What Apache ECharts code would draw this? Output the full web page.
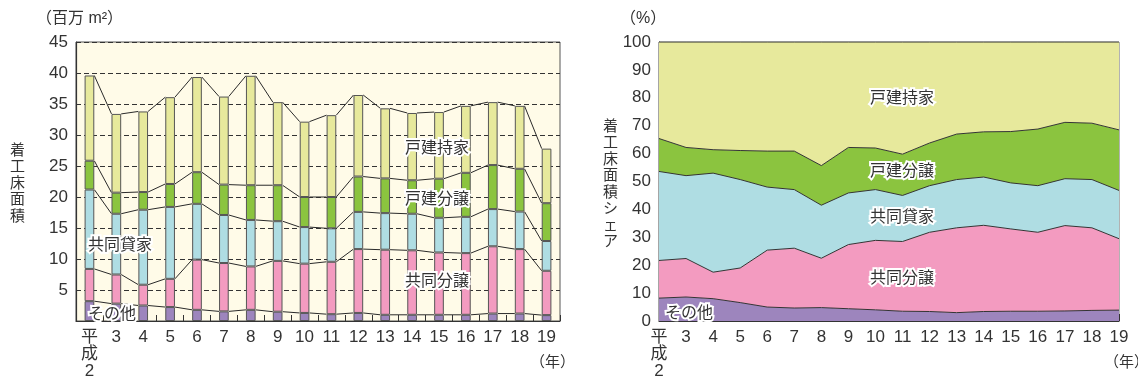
<!DOCTYPE html>
<html><head><meta charset="utf-8">
<script src="https://cdn.jsdelivr.net/npm/echarts@6/dist/echarts.min.js"></script>
<style>html,body{margin:0;padding:0;background:#fff}#c{width:1138px;height:380px}</style>
</head><body><div id="c"></div>
<script>
// ---- data ----
const years = ['平\n成\n2','3','4','5','6','7','8','9','10','11','12','13','14','15','16','17','18','19'];
const seriesNames = ['その他','共同分譲','共同貸家','戸建分譲','戸建持家'];
// left: floor area (million m2)
const sonota        = [3.2,2.8,2.5,2.25,1.8,1.55,1.8,1.5,1.3,1.1,1.3,1.0,1.0,1.0,1.0,1.2,1.2,0.95];
const kyodoBunjo    = [5.2,4.7,3.35,4.55,8.1,7.8,7.0,8.2,7.95,8.45,10.3,10.5,10.4,10.05,9.95,10.85,10.4,7.15];
const kyodoKashiya  = [12.8,9.8,12.1,11.6,9.0,7.75,7.5,6.4,5.9,5.4,6.0,5.9,5.9,5.6,5.85,6.0,6.05,4.8];
const kodateBunjo   = [4.65,3.4,2.85,3.7,5.1,4.9,5.6,5.8,4.85,5.05,5.7,5.6,5.4,6.3,7.1,7.1,6.9,6.1];
const kodateMochiie = [13.75,12.7,13.0,14.0,15.35,14.2,17.65,13.4,12.15,13.2,13.15,11.3,10.85,10.75,10.8,10.15,10.15,8.8];
// right: share (%)
const shSonota        = [8.2,8.6,8.0,6.6,5.0,4.65,4.8,4.4,4.0,3.5,3.4,3.0,3.4,3.5,3.5,3.6,3.8,3.9];
const shKyodoBunjo    = [13.5,13.8,9.5,12.4,20.4,21.45,17.7,23.0,24.9,25.0,28.4,30.4,30.9,29.5,28.3,30.6,29.6,25.6];
const shKyodoKashiya  = [31.9,29.7,35.5,31.7,22.6,21.0,19.0,18.5,18.2,16.5,16.7,17.3,17.3,16.5,16.7,16.8,17.3,17.3];
const shKodateBunjo   = [11.8,10.1,8.4,10.4,12.9,13.8,14.2,16.3,14.9,14.8,15.3,16.3,16.2,18.4,20.3,20.2,20.2,21.7];
const shKodateMochiie = [34.6,37.8,38.6,38.9,39.1,39.1,44.3,37.8,38.0,40.2,36.2,33.0,32.2,32.1,31.2,28.8,29.1,31.5];
const leftTicks = {min:0, max:45, interval:5};
const rightTicks = {min:0, max:100, interval:10};

const colors = ['#9d85bd','#f39bc0','#afdde3','#8bc43f','#e7e99c'];
const leftData = [sonota,kyodoBunjo,kyodoKashiya,kodateBunjo,kodateMochiie];
const rightData = [shSonota,shKyodoBunjo,shKyodoKashiya,shKodateBunjo,shKodateMochiie];

const BAR_RATIO = 0.36;
const FONT = '"Liberation Sans","Noto Sans CJK JP",sans-serif';
const JFONT = '"Noto Sans CJK JP",sans-serif';

// cumulative tops for connectors
const cums = [];
let run = years.map(()=>0);
leftData.forEach(arr=>{ run = run.map((v,i)=>v+arr[i]); cums.push(run.slice()); });

function connector(cum){
  const data=[];
  for(let i=0;i<cum.length-1;i++) data.push([i,cum[i],cum[i+1]]);
  return {type:'custom', xAxisIndex:0, yAxisIndex:0, data, encode:{x:0,y:[1,2]}, z:3, silent:true,
    renderItem(params, api){
      const i = api.value(0);
      const p1 = api.coord([i, api.value(1)]);
      const p2 = api.coord([i+1, api.value(2)]);
      const hb = api.size([1,0])[0]*BAR_RATIO/2;
      return {type:'line', shape:{x1:p1[0]+hb, y1:p1[1], x2:p2[0]-hb, y2:p2[1]},
        style:{stroke:'#2a2a2a', lineWidth:1}};
    }};
}

const series = [];
leftData.forEach((arr,k)=>{
  series.push({type:'bar', name:seriesNames[k], stack:'L', xAxisIndex:0, yAxisIndex:0,
    barWidth:(BAR_RATIO*100)+'%', data:arr, z:4,
    itemStyle:{color:colors[k], borderColor:'#555', borderWidth:1}});
});
cums.forEach(c=>series.push(connector(c)));
rightData.forEach((arr,k)=>{
  series.push({type:'line', name:seriesNames[k]+'%', stack:'R', xAxisIndex:1, yAxisIndex:1,
    data:arr, symbol:'none', smooth:false,
    lineStyle:{color:'#333', width:1}, areaStyle:{color:colors[k], opacity:1}, z:2});
});

function lbl(text,x,y){
  return {type:'text', x, y, z:100, style:{text, font:'16px '+JFONT, fill:'#333',
    stroke:'#fff', lineWidth:4, textAlign:'left', textVerticalAlign:'middle'}};
}
function plain(text,x,y,opt){
  return Object.assign({type:'text', x, y, z:100, style:Object.assign({text, font:'15px '+JFONT, fill:'#333',
    textAlign:'left', textVerticalAlign:'middle'}, opt||{})});
}

const axisLabelX = {color:'#333', fontSize:17, fontFamily:FONT, margin:8, lineHeight:17, interval:0};

const option = {
  animation:false,
  textStyle:{fontFamily:FONT},
  grid:[
    {left:76, top:42, width:484, height:279.5, show:true, backgroundColor:'#fffbe8', borderColor:'#555', borderWidth:1},
    {left:659, top:42, width:460, height:280, show:true, backgroundColor:'transparent', borderColor:'#666', borderWidth:1}
  ],
  xAxis:[
    {type:'category', gridIndex:0, data:years, boundaryGap:true,
      axisLine:{lineStyle:{color:'#333', width:1.2}},
      axisTick:{show:true, inside:true, length:6, lineStyle:{color:'#333'}},
      axisLabel:axisLabelX},
    {type:'category', gridIndex:1, data:years, boundaryGap:false,
      axisLine:{lineStyle:{color:'#333', width:1.2}},
      axisTick:{show:true, inside:true, length:7, alignWithLabel:true, lineStyle:{color:'#333'}},
      axisLabel:axisLabelX}
  ],
  yAxis:[
    {type:'value', gridIndex:0, min:leftTicks.min, max:leftTicks.max, interval:leftTicks.interval,
      axisLine:{show:true, lineStyle:{color:'#333', width:1.2}}, axisTick:{show:false},
      axisLabel:{color:'#333', fontSize:17, fontFamily:FONT, margin:8, formatter:v=>v===0?'':String(v)},
      splitLine:{show:true, lineStyle:{color:'#333', type:[5,3], width:1}}},
    {type:'value', gridIndex:1, min:rightTicks.min, max:rightTicks.max, interval:rightTicks.interval,
      axisLine:{show:true, lineStyle:{color:'#333', width:1.2}},
      axisTick:{show:true, inside:true, length:7, lineStyle:{color:'#333'}},
      axisLabel:{color:'#333', fontSize:17, fontFamily:FONT, margin:8},
      splitLine:{show:false}}
  ],
  series,
  graphic:[
    plain('（百万 m²）', 36, 19, {font:'16px '+FONT}),
    plain('（%）', 620, 19, {font:'16px '+FONT}),
    plain('着\n工\n床\n面\n積', 10, 182, {font:'15px '+JFONT, lineHeight:16.5}),
    plain('着\n工\n床\n面\n積\nシ\nェ\nア', 603, 183, {font:'15px '+JFONT, lineHeight:16.5}),
    plain('（年）', 530, 361, {font:'15px '+JFONT}),
    plain('（年）', 1104, 361, {font:'15px '+JFONT}),
    lbl('共同貸家', 88, 244),
    lbl('その他', 88, 313),
    lbl('戸建持家', 405, 147),
    lbl('戸建分譲', 405, 198),
    lbl('共同分譲', 405, 280),
    lbl('戸建持家', 870, 97),
    lbl('戸建分譲', 870, 170),
    lbl('共同貸家', 870, 216),
    lbl('共同分譲', 870, 277),
    lbl('その他', 665, 312)
  ]
};
const chart = echarts.init(document.getElementById('c'), null, {renderer:'canvas'});
chart.setOption(option);
</script>
</body></html>
